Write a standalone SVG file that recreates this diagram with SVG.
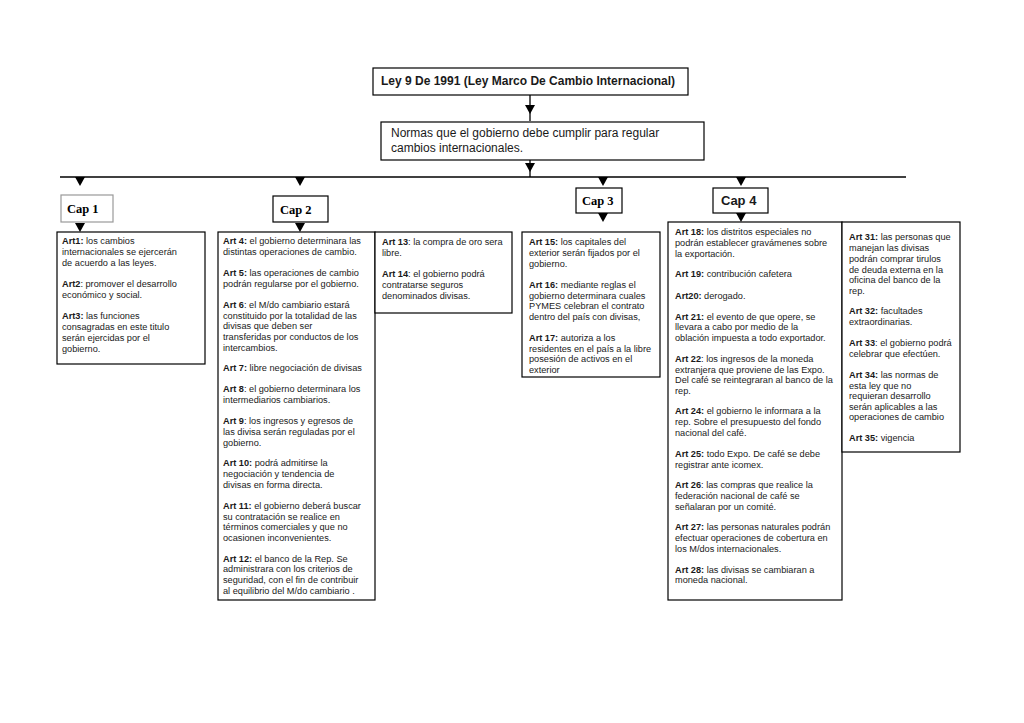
<svg xmlns="http://www.w3.org/2000/svg" xmlns:xlink="http://www.w3.org/1999/xlink" width="1024" height="723" viewBox="0 0 1024 723">
<style>
.box{fill:#fff;stroke:#000;stroke-width:1.2}
.t{font-family:"Liberation Sans",Arial,sans-serif;font-size:9.2px;fill:#1a1a1a}
.b{font-weight:bold}
.cap{font-family:"Liberation Serif","Times New Roman",serif;font-weight:bold;font-size:12.5px;fill:#000}
.ln{stroke:#000;stroke-width:1.3;fill:none}
</style>
<defs>
<path id="ah" d="M-5,0 L5,0 L0,9 Z" fill="#000"/>
</defs>
<rect width="1024" height="723" fill="#fff"/>
<g id="connectors">
<line class="ln" x1="530" y1="95" x2="530" y2="121"/>
<use xlink:href="#ah" x="530" y="105"/>
<line class="ln" x1="530" y1="160" x2="530" y2="177"/>
<use xlink:href="#ah" x="530" y="163"/>
<line class="ln" x1="60" y1="177" x2="906" y2="177"/>
<use xlink:href="#ah" x="80" y="177"/>
<use xlink:href="#ah" x="300" y="177"/>
<use xlink:href="#ah" x="603" y="177"/>
<use xlink:href="#ah" x="741" y="177"/>
<use xlink:href="#ah" x="80" y="223"/>
<use xlink:href="#ah" x="300" y="223"/>
<use xlink:href="#ah" x="603" y="213"/>
<use xlink:href="#ah" x="741" y="213"/>
</g>
<g id="title">
<rect class="box" x="373" y="68" width="315" height="27"/>
<text class="t b" x="381" y="85" style="font-size:12px">Ley 9 De 1991 (Ley Marco De Cambio Internacional)</text>
</g>
<g id="normas">
<rect class="box" x="381" y="122" width="323" height="38"/>
<text class="t" style="font-size:12px"><tspan x="391" y="137">Normas que el gobierno debe cumplir para regular</tspan><tspan x="391" y="152">cambios internacionales.</tspan></text>
</g>
<g id="cap1">
<rect class="box" x="61" y="195" width="52" height="27" style="stroke:#999"/>
<text class="cap" x="67" y="213">Cap 1</text>
</g>
<g id="cap2">
<rect class="box" x="273" y="196" width="55" height="26"/>
<text class="cap" x="280" y="214">Cap 2</text>
</g>
<g id="cap3">
<rect class="box" x="576" y="188" width="46" height="25"/>
<text class="cap" x="582" y="205">Cap 3</text>
</g>
<g id="cap4">
<rect class="box" x="713" y="188" width="55" height="25"/>
<text class="t b" x="721" y="205" style="font-size:13px">Cap 4</text>
</g>
<g id="arts1">
<rect class="box" x="57" y="232" width="148" height="132"/>
<text class="t">
<tspan x="62" y="244"><tspan class="b">Art1:</tspan> los cambios</tspan>
<tspan x="62" y="255">internacionales se ejercerán</tspan>
<tspan x="62" y="266">de acuerdo a las leyes.</tspan>
<tspan x="62" y="287"><tspan class="b">Art2</tspan>: promover el desarrollo</tspan>
<tspan x="62" y="298">económico y social.</tspan>
<tspan x="62" y="319"><tspan class="b">Art3:</tspan> las funciones</tspan>
<tspan x="62" y="330">consagradas en este titulo</tspan>
<tspan x="62" y="341">serán ejercidas por el</tspan>
<tspan x="62" y="352">gobierno.</tspan>
</text>
</g>
<g id="arts2">
<rect class="box" x="218" y="232" width="157" height="368"/>
<text class="t">
<tspan x="223" y="244"><tspan class="b">Art 4:</tspan> el gobierno determinara las</tspan>
<tspan x="223" y="255">distintas operaciones de cambio.</tspan>
<tspan x="223" y="276"><tspan class="b">Art 5:</tspan> las operaciones de cambio</tspan>
<tspan x="223" y="287">podrán regularse por el gobierno.</tspan>
<tspan x="223" y="308"><tspan class="b">Art 6</tspan>: el M/do cambiario estará</tspan>
<tspan x="223" y="319">constituido por la totalidad de las</tspan>
<tspan x="223" y="329">divisas  que deben ser</tspan>
<tspan x="223" y="340">transferidas por conductos de los</tspan>
<tspan x="223" y="351">intercambios.</tspan>
<tspan x="223" y="371"><tspan class="b">Art 7:</tspan> libre negociación de divisas</tspan>
<tspan x="223" y="392"><tspan class="b">Art 8</tspan>: el gobierno determinara los</tspan>
<tspan x="223" y="403">intermediarios cambiarios.</tspan>
<tspan x="223" y="424"><tspan class="b">Art 9</tspan>: los ingresos y egresos de</tspan>
<tspan x="223" y="435">las divisa serán reguladas por el</tspan>
<tspan x="223" y="446">gobierno.</tspan>
<tspan x="223" y="466"><tspan class="b">Art 10:</tspan> podrá admitirse la</tspan>
<tspan x="223" y="477">negociación y tendencia de</tspan>
<tspan x="223" y="488">divisas en forma directa.</tspan>
<tspan x="223" y="509"><tspan class="b">Art 11:</tspan> el gobierno deberá buscar</tspan>
<tspan x="223" y="520">su contratación se realice en</tspan>
<tspan x="223" y="530">términos comerciales y que no</tspan>
<tspan x="223" y="541">ocasionen inconvenientes.</tspan>
<tspan x="223" y="562"><tspan class="b">Art 12:</tspan> el banco de la Rep. Se</tspan>
<tspan x="223" y="572">administrara con los criterios  de</tspan>
<tspan x="223" y="583">seguridad, con el fin de contribuir</tspan>
<tspan x="223" y="594">al equilibrio del M/do cambiario .</tspan>
</text>
</g>
<g id="arts2b">
<rect class="box" x="375" y="232" width="137" height="81"/>
<text class="t">
<tspan x="382" y="245"><tspan class="b">Art 13</tspan>: la compra de oro sera</tspan>
<tspan x="382" y="256">libre.</tspan>
<tspan x="382" y="277"><tspan class="b">Art 14</tspan>: el gobierno podrá</tspan>
<tspan x="382" y="288">contratarse seguros</tspan>
<tspan x="382" y="299">denominados divisas.</tspan>
</text>
</g>
<g id="arts3">
<rect class="box" x="522" y="232" width="138" height="145"/>
<text class="t">
<tspan x="529" y="245"><tspan class="b">Art 15:</tspan> los capitales del</tspan>
<tspan x="529" y="256">exterior serán fijados por el</tspan>
<tspan x="529" y="267">gobierno.</tspan>
<tspan x="529" y="288"><tspan class="b">Art 16:</tspan> mediante reglas el</tspan>
<tspan x="529" y="299">gobierno determinara cuales</tspan>
<tspan x="529" y="309">PYMES celebran el contrato</tspan>
<tspan x="529" y="320">dentro del país con divisas,</tspan>
<tspan x="529" y="341"><tspan class="b">Art 17:</tspan> autoriza a los</tspan>
<tspan x="529" y="352">residentes en el país a la libre</tspan>
<tspan x="529" y="362">posesión de activos en el</tspan>
<tspan x="529" y="373">exterior</tspan>
</text>
</g>
<g id="arts4">
<rect class="box" x="668" y="222" width="174" height="378"/>
<text class="t">
<tspan x="675" y="235"><tspan class="b">Art 18:</tspan> los distritos especiales no</tspan>
<tspan x="675" y="246">podrán establecer gravámenes sobre</tspan>
<tspan x="675" y="257">la exportación.</tspan>
<tspan x="675" y="277"><tspan class="b">Art 19:</tspan> contribución cafetera</tspan>
<tspan x="675" y="299"><tspan class="b">Art20:</tspan> derogado.</tspan>
<tspan x="675" y="320"><tspan class="b">Art 21:</tspan> el evento de que opere, se</tspan>
<tspan x="675" y="330">llevara a cabo por medio de la</tspan>
<tspan x="675" y="341">oblación impuesta a todo exportador.</tspan>
<tspan x="675" y="362"><tspan class="b">Art 22</tspan>: los ingresos de la moneda</tspan>
<tspan x="675" y="373">extranjera que proviene de las Expo.</tspan>
<tspan x="675" y="383">Del café se reintegraran al banco de la</tspan>
<tspan x="675" y="394">rep.</tspan>
<tspan x="675" y="414"><tspan class="b">Art 24:</tspan> el gobierno le informara a la</tspan>
<tspan x="675" y="425">rep. Sobre el presupuesto del fondo</tspan>
<tspan x="675" y="436">nacional del café.</tspan>
<tspan x="675" y="457"><tspan class="b">Art 25:</tspan> todo Expo. De café se debe</tspan>
<tspan x="675" y="468">registrar ante icomex.</tspan>
<tspan x="675" y="488"><tspan class="b">Art 26</tspan>: las compras que realice la</tspan>
<tspan x="675" y="499">federación nacional de café se</tspan>
<tspan x="675" y="510">señalaran por un comité.</tspan>
<tspan x="675" y="530"><tspan class="b">Art 27:</tspan> las personas naturales podrán</tspan>
<tspan x="675" y="541">efectuar operaciones de cobertura en</tspan>
<tspan x="675" y="552">los M/dos internacionales.</tspan>
<tspan x="675" y="573"><tspan class="b">Art 28:</tspan> las divisas se cambiaran a</tspan>
<tspan x="675" y="583">moneda nacional.</tspan>
</text>
</g>
<g id="arts4b">
<rect class="box" x="842" y="222" width="118" height="230"/>
<text class="t">
<tspan x="849" y="240"><tspan class="b">Art 31:</tspan> las personas que</tspan>
<tspan x="849" y="251">manejan las divisas</tspan>
<tspan x="849" y="262">podrán comprar tirulos</tspan>
<tspan x="849" y="273">de deuda externa en la</tspan>
<tspan x="849" y="283">oficina del banco de la</tspan>
<tspan x="849" y="294">rep.</tspan>
<tspan x="849" y="314"><tspan class="b">Art 32:</tspan> facultades</tspan>
<tspan x="849" y="325">extraordinarias.</tspan>
<tspan x="849" y="346"><tspan class="b">Art 33</tspan>: el gobierno podrá</tspan>
<tspan x="849" y="357">celebrar que efectúen.</tspan>
<tspan x="849" y="378"><tspan class="b">Art 34:</tspan> las normas de</tspan>
<tspan x="849" y="389">esta ley  que no</tspan>
<tspan x="849" y="399">requieran desarrollo</tspan>
<tspan x="849" y="410">serán aplicables  a las</tspan>
<tspan x="849" y="420">operaciones de cambio</tspan>
<tspan x="849" y="441"><tspan class="b">Art 35:</tspan> vigencia</tspan>
</text>
</g>
</svg>
